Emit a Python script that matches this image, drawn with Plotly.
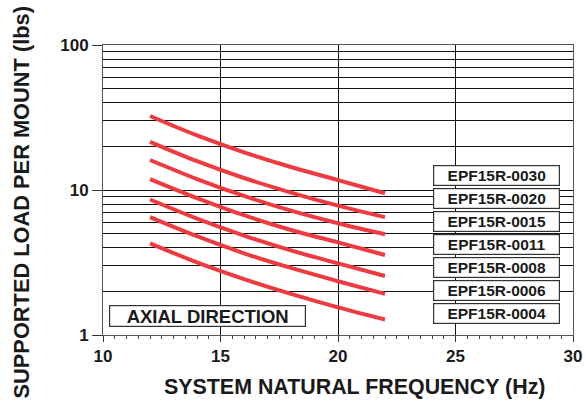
import plotly.graph_objects as go

freq = [12, 14, 16, 18, 20, 22]
series_names = ["EPF15R-0030", "EPF15R-0020", "EPF15R-0015", "EPF15R-0011",
                "EPF15R-0008", "EPF15R-0006", "EPF15R-0004"]
load_0030 = [32.4, 23.8, 18.2, 14.4, 11.7, 9.5]
load_0020 = [21.5, 15.8, 12.1, 9.6, 7.8, 6.5]
load_0015 = [16.1, 11.9, 9.1, 7.2, 5.9, 4.95]
load_0011 = [11.9, 8.8, 6.7, 5.3, 4.35, 3.56]
load_0008 = [8.6, 6.35, 4.85, 3.83, 3.12, 2.55]
load_0006 = [6.5, 4.8, 3.66, 2.9, 2.35, 1.92]
load_0004 = [4.29, 3.17, 2.43, 1.92, 1.55, 1.28]
all_loads = [load_0030, load_0020, load_0015, load_0011, load_0008, load_0006, load_0004]

x_ticks = [10, 15, 20, 25, 30]
y_ticks = [1, 10, 100]
y_minor = [2, 3, 4, 5, 6, 7, 8, 9, 20, 30, 40, 50, 60, 70, 80, 90]

FONT = "Liberation Sans, Arial, sans-serif"
RED = "#ee3b40"
INK = "#1a1a1a"

fig = go.Figure()
for name, ys in zip(series_names, all_loads):
    fig.add_trace(go.Scatter(x=freq, y=ys, mode="lines", name=name,
                             line=dict(color=RED, width=4, shape="spline"),
                             showlegend=False))

fig.update_layout(
    width=586, height=404,
    margin=dict(l=103, r=13, t=45, b=69),
    paper_bgcolor="white", plot_bgcolor="white",
    font=dict(family=FONT, color=INK),
    xaxis=dict(range=[10, 30], tickvals=x_ticks, showgrid=True, gridcolor="#111",
               gridwidth=1, zeroline=False, showline=True, linecolor="#555",
               linewidth=1, mirror=True, ticks="outside", ticklen=6, tickcolor="#333",
               automargin=False,
               tickfont=dict(size=17, family=FONT, color=INK, weight="bold"),
               minor=dict(dtick=0.5, ticks="outside", ticklen=3, tickcolor="#444",
                          showgrid=False)),
    yaxis=dict(type="log", range=[0, 2], tickvals=y_ticks,
               ticktext=["1", "10", "100"], showgrid=True, gridcolor="#111",
               gridwidth=1, zeroline=False, showline=True, linecolor="#555",
               linewidth=1, mirror=True, ticks="outside", ticklen=10, tickcolor="#333",
               automargin=False,
               tickfont=dict(size=17, family=FONT, color=INK, weight="bold"),
               minor=dict(tickvals=y_minor, showgrid=True, gridcolor="#111",
                          gridwidth=1, ticks="")),
)

annotations = []
# label boxes
box_top = 0.549
step = 0.0793
for i, name in enumerate(series_names):
    annotations.append(dict(
        xref="paper", yref="paper", x=0.837, y=box_top - i * step,
        text="<b>" + name + "</b>", showarrow=False, xanchor="center", yanchor="middle",
        width=121, height=14.5, bgcolor="white", bordercolor="#333", borderwidth=1.2,
        borderpad=2, font=dict(size=15.5, family=FONT, color=INK)))

annotations.append(dict(
    xref="paper", yref="paper", x=0.2223, y=0.064,
    text="<b>AXIAL DIRECTION</b>", showarrow=False, xanchor="center", yanchor="middle",
    width=191, height=16, bgcolor="white", bordercolor="#333", borderwidth=1.2,
    borderpad=2, font=dict(size=18.5, family=FONT, color=INK)))

annotations.append(dict(
    xref="paper", yref="paper", x=0.536, y=-0.179, yanchor="middle",
    text="<b>SYSTEM NATURAL FREQUENCY (Hz)</b>", showarrow=False,
    font=dict(size=21.4, family=FONT, color=INK)))

annotations.append(dict(
    xref="paper", yref="paper", x=-0.1745, y=0.457, xanchor="center", yanchor="middle",
    text="<b>SUPPORTED LOAD PER MOUNT (lbs)</b>", showarrow=False, textangle=-90,
    font=dict(size=21.8, family=FONT, color=INK)))

fig.update_layout(annotations=annotations)
fig.write_html(
    "out.html",
    config={"displayModeBar": False, "responsive": False},
    post_script="document.body.style.margin='0';"
                "document.documentElement.style.overflow='hidden';"
                "document.body.style.overflow='hidden';",
)
